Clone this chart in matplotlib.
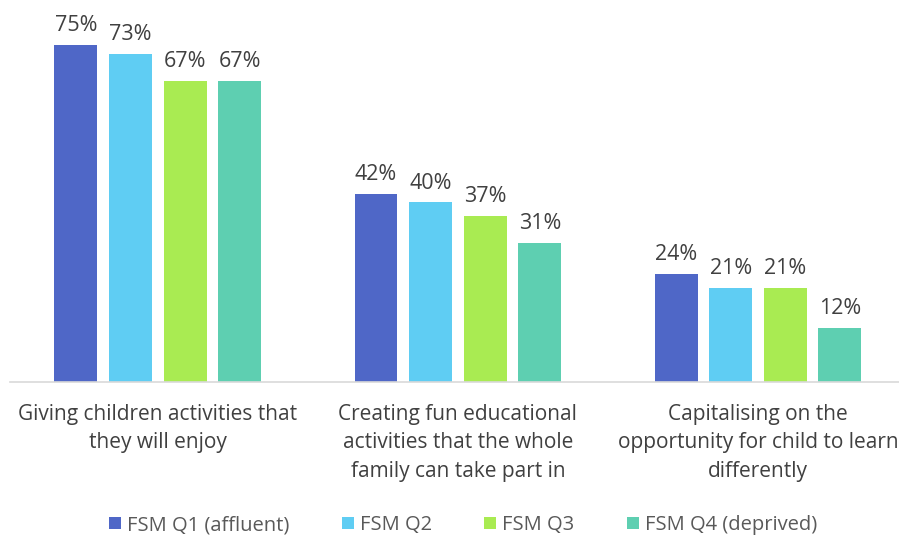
import matplotlib
matplotlib.use("Agg")
import matplotlib.pyplot as plt
import numpy as np

categories = ["Giving children activities that\nthey will enjoy",
              "Creating fun educational\nactivities that the whole\nfamily can take part in",
              "Capitalising on the\nopportunity for child to learn\ndifferently"]
series_names = ["FSM Q1 (affluent)", "FSM Q2", "FSM Q3", "FSM Q4 (deprived)"]
q1 = [75, 42, 24]
q2 = [73, 40, 21]
q3 = [67, 37, 21]
q4 = [67, 31, 12]
series = [q1, q2, q3, q4]
colors = ["#4F67C7", "#5FCDF3", "#A9EB52", "#5ECFB1"]

plt.rcParams['font.family'] = ['Open Sans', 'DejaVu Sans']

fig = plt.figure(figsize=(8.99, 5.38), dpi=100)
ax = fig.add_axes([0.011, 0.29, 0.989, 359/538])

x = np.arange(len(categories))
step = 0.182
width = 0.143
for i, (vals, name, c) in enumerate(zip(series, series_names, colors)):
    pos = x + (i - 1.5) * step
    bars = ax.bar(pos, vals, width=width, color=c, label=name, zorder=2)
    for p, v in zip(pos, vals):
        ax.text(p, v + 2, f"{v}%", ha="center", va="bottom", fontsize=15.5, color="#404040")

ax.set_xlim(-0.493, 2.47)
ax.set_ylim(0, 80)
ax.set_yticks([])
ax.set_xticks(x)
ax.set_xticklabels(categories, fontsize=15, color="#404040", linespacing=1.45)
ax.tick_params(axis='x', length=0, pad=16)
for s in ["top", "right", "left"]:
    ax.spines[s].set_visible(False)
ax.spines["bottom"].set_color("#D9D9D9")
ax.spines["bottom"].set_linewidth(1.2)

leg = fig.legend(loc="center", bbox_to_anchor=(0.515, 1 - 525/538), ncol=4, frameon=False,
                 fontsize=14.5, handlelength=0.6, handleheight=0.6, columnspacing=2.6,
                 handletextpad=0.3)
for t in leg.get_texts():
    t.set_color("#595959")

fig.savefig("out.png", dpi=100)
